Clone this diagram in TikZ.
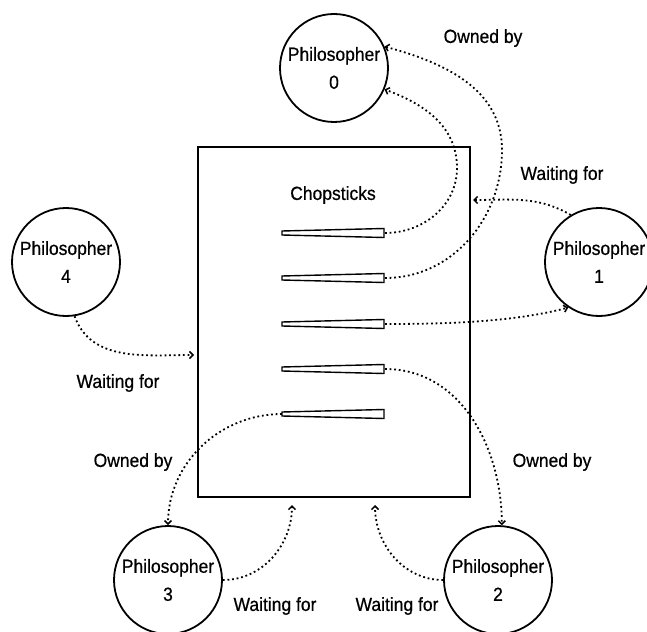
\documentclass[tikz,border=0pt]{standalone}
\usepackage{fontspec}
\setmainfont[FakeStretch=0.92, FakeBold=0.6]{Liberation Sans}
\usetikzlibrary{arrows.meta}

\tikzset{
    phil/.style={draw, circle, line width=1.8pt, minimum size=108pt, inner sep=0pt, align=center, font=\fontsize{19}{28}\selectfont},
    lbl/.style={font=\fontsize{19}{22}\selectfont},
    link/.style={line width=1.8pt, dash pattern=on 1.8pt off 2.8pt, -{Straight Barb[length=3.5pt,width=7pt,line width=1.5pt]}},
    stick/.style={line width=1.4pt, fill=white}
}

\begin{document}
\begin{tikzpicture}[x=1pt, y=1pt]
        \useasboundingbox (0,0) rectangle (647,-631);

        % the table with the chopsticks
        \draw[line width=1.9pt] (198,-147) rectangle (470,-497);
        \node[lbl] (title) at (333,-195) {Chopsticks};
        \foreach[count=~] \y in {233, 278, 324, 369, 414} {
            \draw[stick] (282,-\y+2) -- (384,-\y+4.5) -- (384,-\y-4.5) -- (282,-\y-2) -- cycle;
            \coordinate (cs~-w) at (282,-\y);
            \coordinate (cs~-e) at (385,-\y);
        }

        % philosophers
        \node[phil] (p0) at (334,-68) {Philosopher\\0};
        \node[phil] (p1) at (599,-262) {Philosopher\\1};
        \node[phil] (p2) at (498,-580) {Philosopher\\2};
        \node[phil] (p3) at (168,-580) {Philosopher\\3};
        \node[phil] (p4) at (66,-262) {Philosopher\\4};

        % free ends on the table
        \coordinate (w1) at (473,-200);
        \coordinate (w2) at (375,-505);
        \coordinate (w3) at (292,-505);
        \coordinate (w4) at (194,-355);

        % owned by
        \draw[link] (cs1-e) to[out=0, in=-90] (457,-168) to[out=90, in=-20] (p0.-23);
        \draw[link] (cs2-e) to[out=0, in=-90] (502,-150) to[out=90, in=-15] (p0.23);
        \draw[link] (cs3-e) to[out=0, in=195, looseness=0.8] (p1.-124);
        \draw[link] (cs4-e) to[out=0, in=90] (p2.86);
        \draw[link] (cs5-w) to[out=180, in=90] (p3.90);

        % waiting for
        \draw[link] (p1.121) to[out=150, in=0] (w1);
        \draw[link] (p2.west) to[out=180, in=-90] (w2);
        \draw[link] (p3.east) to[out=0, in=-90] (w3);
        \draw[link] (p4.-81) to[out=-70, in=180] (w4);

        % labels
        \node[lbl] (l0) at (483,-38) {Owned by};
        \node[lbl] (l1) at (562,-175) {Waiting for};
        \node[lbl] (l2) at (552,-462) {Owned by};
        \node[lbl] (l3) at (133,-462) {Owned by};
        \node[lbl] (l4) at (118,-383) {Waiting for};
        \node[lbl] (l5) at (275,-606) {Waiting for};
        \node[lbl] (l6) at (397,-606) {Waiting for};
    \end{tikzpicture}
\end{document}
